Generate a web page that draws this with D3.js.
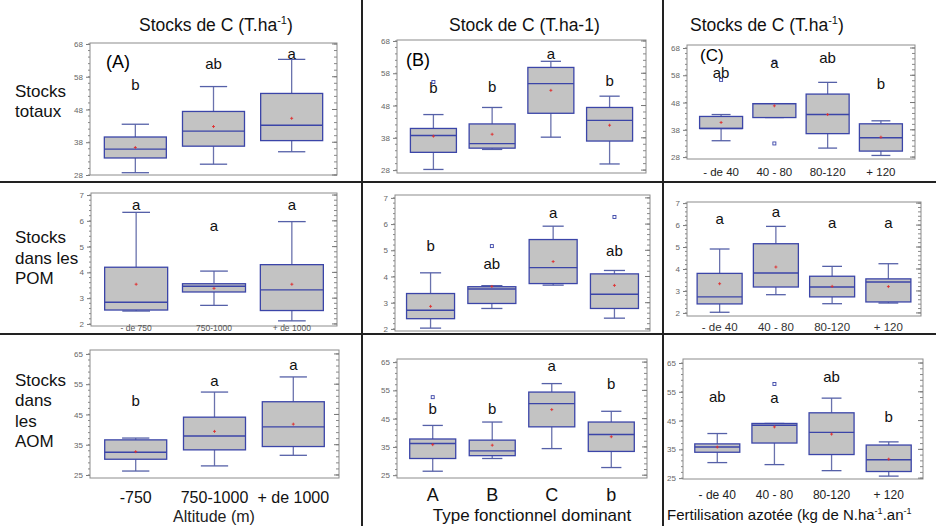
<!DOCTYPE html>
<html lang="fr">
<head>
<meta charset="UTF-8">
<title>Stocks de C</title>
<style>
  body { margin: 0; background: #fff; }
  svg { display: block; font-family: 'Liberation Sans', Arial, sans-serif; }
</style>
</head>
<body>
<svg id="svg" width="936" height="526"></svg>
<script src="https://d3js.org/d3.v7.min.js"></script>
<script>
// categories
const catAlt = ['- de 750', '750-1000', '+ de 1000']
const catAltBig = ['-750', '750-1000', '+ de 1000']
const catType = ['A', 'B', 'C', 'b']
const catFert = ['- de 40', '40 - 80', '80-120', '+ 120']

// box stats: [min, q1, median, q3, max, mean]
const totA = [[28.7, 33.2, 35.9, 39.6, 43.5, 36.4], [31.3, 36.8, 41.4, 47.4, 55.0, 42.8], [35.1, 38.5, 43.2, 52.9, 63.3, 45.3]]
const totB = [[28.2, 33.5, 38.7, 40.9, 45.2, 38.5], [34.4, 34.8, 36.2, 42.3, 47.4, 39.1], [38.2, 45.6, 54.8, 59.8, 61.7, 52.7], [29.9, 37.0, 43.4, 47.4, 50.9, 41.9]]
const totC = [[34.0, 38.5, 38.5, 42.9, 43.6, 40.7], [42.5, 42.5, 47.6, 47.6, 47.6, 46.8], [31.3, 36.6, 43.6, 51.1, 55.4, 43.6], [28.6, 30.2, 35.1, 40.2, 41.3, 35.3]]
const pomA = [[2.50, 2.54, 2.84, 4.20, 6.33, 3.54], [2.72, 3.24, 3.46, 3.56, 4.05, 3.38], [2.12, 2.52, 3.32, 4.30, 5.97, 3.54]]
const pomB = [[2.03, 2.39, 2.71, 3.35, 4.14, 2.86], [2.78, 2.97, 3.52, 3.61, 3.65, 3.62], [3.67, 3.73, 4.34, 5.41, 5.92, 4.57], [2.41, 2.78, 3.32, 4.10, 4.23, 3.66]]
const pomC = [[2.03, 2.41, 2.73, 3.80, 4.91, 3.33], [2.83, 3.18, 3.82, 5.15, 5.94, 4.09], [2.42, 2.73, 3.18, 3.67, 4.12, 3.21], [2.45, 2.50, 3.41, 3.55, 4.24, 3.20]]
const aomA = [[26.3, 30.2, 32.5, 36.6, 37.2, 32.7], [28.0, 33.3, 37.9, 44.1, 52.4, 39.4], [31.5, 34.4, 40.9, 49.2, 57.4, 41.8]]
const aomB = [[26.4, 30.9, 36.2, 37.8, 42.6, 35.8], [30.9, 31.9, 33.6, 37.4, 43.8, 35.6], [34.4, 42.1, 50.3, 54.4, 57.4, 48.2], [27.7, 33.4, 39.4, 43.8, 47.6, 38.6]]
const aomC = [[30.4, 34.0, 35.8, 36.9, 40.5, 35.8], [29.7, 37.2, 43.4, 44.0, 44.0, 42.8], [27.6, 33.2, 40.9, 47.7, 52.8, 40.3], [25.7, 27.3, 31.4, 36.5, 37.6, 31.6]]

// outliers: [category index, value]
const outTotB = [[0, 55.3]]
const outTotC = [[0, 56.3], [1, 33.0], [1, 63.0]]
const outPomB = [[1, 5.16], [3, 6.27]]
const outAomB = [[0, 52.6]]
const outAomC = [[1, 57.7]]

// significance letters and the value where they sit
const letTotA = ['b', 'ab', 'a'], letYTotA = [55.5, 62, 65]
const letTotB = ['b', 'b', 'a', 'b'], letYTotB = [53.3, 53.8, 64, 55.5]
const letTotC = ['ab', 'a', 'ab', 'b'], letYTotC = [58.8, 62.5, 64.3, 54.8]
const letPomA = ['a', 'a', 'a'], letYPomA = [6.6, 5.8, 6.6]
const letPomB = ['b', 'ab', 'a', 'ab'], letYPomB = [5.16, 4.47, 6.43, 4.97]
const letPomC = ['a', 'a', 'a', 'a'], letYPomC = [6.29, 6.59, 6.09, 6.09]
const letAomA = ['b', 'a', 'a'], letYAomA = [49.5, 56.2, 61.2]
const letAomB = ['b', 'b', 'a', 'b'], letYAomB = [48.5, 48.5, 63.6, 57.1]
const letAomC = ['ab', 'a', 'ab', 'b'], letYAomC = [53.3, 52.8, 60.0, 46.3]

// tick labels
const ticksTot = [28, 38, 48, 58, 68]
const ticksPom = [2, 3, 4, 5, 6, 7]
const ticksAom = [25, 35, 45, 55, 65]

const svg = d3.select('#svg')
const blue = '#3b45a8'

function panel(p) {
  const g = svg.append('g')
  const x = d3.scalePoint().domain(p.cats).range([p.x0, p.x1]).padding(p.pad)
  const y = d3.scaleLinear().domain(p.dom).range([p.y1, p.y0])

  // frame
  g.append('rect')
    .attr('x', p.x0).attr('y', p.y0)
    .attr('width', p.x1 - p.x0).attr('height', p.y1 - p.y0)
    .attr('fill', 'none').attr('stroke', '#8c8c8c')

  // left axis
  const ax = g.append('g')
    .attr('transform', `translate(${p.x0},0)`)
    .call(d3.axisLeft(y).tickValues(p.ticks).tickSize(4).tickPadding(3).tickFormat(d3.format('d')))
  ax.select('.domain').remove()
  ax.selectAll('line').attr('stroke', '#777')
  ax.selectAll('text').attr('font-size', 8).attr('fill', '#666').attr('font-family', 'Liberation Sans, Arial')

  // minor ticks on both sides
  const minor = []
  for (let v = p.ticks[0]; v <= p.dom[1]; v += p.minor) minor.push(+v.toFixed(3))
  for (let v = p.ticks[0] - p.minor; v >= p.dom[0]; v -= p.minor) minor.push(+v.toFixed(3))
  g.selectAll('.mn').data(minor).join('line')
    .attr('x1', p.x0 - 2).attr('x2', p.x0)
    .attr('y1', d => y(d)).attr('y2', d => y(d))
    .attr('stroke', '#888')
  g.selectAll('.mr').data(minor).join('line')
    .attr('x1', p.x1).attr('x2', p.x1 - 3)
    .attr('y1', d => y(d)).attr('y2', d => y(d))
    .attr('stroke', '#888')
  g.selectAll('.mj').data(p.ticks).join('line')
    .attr('x1', p.x1).attr('x2', p.x1 - 5)
    .attr('y1', d => y(d)).attr('y2', d => y(d))
    .attr('stroke', '#777')

  // boxes
  const b = g.selectAll('.box').data(p.stats).join('g')
    .attr('transform', (d, i) => `translate(${x(p.cats[i])},0)`)
  const w = p.boxW, cap = w * 0.22
  b.append('line')
    .attr('y1', d => y(d[4])).attr('y2', d => y(d[3]))
    .attr('stroke', '#6a72ad').attr('stroke-width', 1.3)
  b.append('line')
    .attr('y1', d => y(d[1])).attr('y2', d => y(d[0]))
    .attr('stroke', '#6a72ad').attr('stroke-width', 1.3)
  b.append('line')
    .attr('x1', -cap).attr('x2', cap)
    .attr('y1', d => y(d[4])).attr('y2', d => y(d[4]))
    .attr('stroke', '#5560a8').attr('stroke-width', 1.3)
  b.append('line')
    .attr('x1', -cap).attr('x2', cap)
    .attr('y1', d => y(d[0])).attr('y2', d => y(d[0]))
    .attr('stroke', '#5560a8').attr('stroke-width', 1.3)
  b.append('rect')
    .attr('x', -w / 2).attr('width', w)
    .attr('y', d => y(d[3])).attr('height', d => Math.max(1, y(d[1]) - y(d[3])))
    .attr('fill', '#c3c3c3').attr('stroke', blue).attr('stroke-width', 1.3)
  b.append('line')
    .attr('x1', -w / 2).attr('x2', w / 2)
    .attr('y1', d => y(d[2])).attr('y2', d => y(d[2]))
    .attr('stroke', blue).attr('stroke-width', 1.4)
  // mean as small red cross
  b.append('path')
    .attr('d', d => `M-1.5,${y(d[5])}h3M0,${y(d[5]) - 1.5}v3`)
    .attr('stroke', '#e03030').attr('stroke-width', 0.9)

  // outliers
  g.selectAll('.out').data(p.outliers || []).join('rect')
    .attr('x', d => x(p.cats[d[0]]) - 1.5).attr('y', d => y(d[1]) - 1.5)
    .attr('width', 3).attr('height', 3)
    .attr('fill', 'none').attr('stroke', blue).attr('stroke-width', 0.9)

  // letters
  g.selectAll('.let').data(p.letters).join('text')
    .attr('x', (d, i) => x(p.cats[i]))
    .attr('y', (d, i) => y(p.letY[i]) + 5)
    .attr('text-anchor', 'middle')
    .attr('font-size', 15).attr('fill', '#111')
    .text(d => d)

  // category labels
  if (p.catLabels) {
    g.selectAll('.cat').data(p.catLabels).join('text')
      .attr('x', (d, i) => x(p.cats[i]))
      .attr('y', p.catY)
      .attr('text-anchor', 'middle')
      .attr('font-size', p.catSize).attr('fill', p.catColor)
      .text(d => d)
  }
}

panel({ x0: 90, x1: 337, y0: 43, y1: 175, dom: [28, 68.3], ticks: ticksTot, minor: 2, pad: 0.58, boxW: 62,
  cats: catAlt, stats: totA, letters: letTotA, letY: letYTotA })
panel({ x0: 397, x1: 646, y0: 40, y1: 173, dom: [27.1, 68.3], ticks: ticksTot, minor: 2, pad: 0.62, boxW: 46,
  cats: catType, stats: totB, letters: letTotB, letY: letYTotB, outliers: outTotB })
panel({ x0: 687, x1: 915, y0: 45, y1: 159, dom: [27.3, 69.1], ticks: ticksTot, minor: 2, pad: 0.64, boxW: 43,
  cats: catFert, stats: totC, letters: letTotC, letY: letYTotC, outliers: outTotC,
  catLabels: catFert, catY: 176, catSize: 11.5, catColor: '#222' })

panel({ x0: 91, x1: 337, y0: 193, y1: 326, dom: [1.92, 7.08], ticks: ticksPom, minor: 0.2, pad: 0.58, boxW: 63,
  cats: catAlt, stats: pomA, letters: letPomA, letY: letYPomA,
  catLabels: catAlt, catY: 331, catSize: 8.5, catColor: '#555' })
panel({ x0: 395, x1: 650, y0: 195, y1: 331, dom: [1.92, 7.11], ticks: ticksPom, minor: 0.2, pad: 0.58, boxW: 48,
  cats: catType, stats: pomB, letters: letPomB, letY: letYPomB, outliers: outPomB })
panel({ x0: 687, x1: 921, y0: 202, y1: 316, dom: [1.86, 7.05], ticks: ticksPom, minor: 0.2, pad: 0.58, boxW: 45,
  cats: catFert, stats: pomC, letters: letPomC, letY: letYPomC,
  catLabels: catFert, catY: 331, catSize: 11.5, catColor: '#333' })

panel({ x0: 90, x1: 339, y0: 350, y1: 478, dom: [24.0, 66.3], ticks: ticksAom, minor: 2, pad: 0.58, boxW: 62,
  cats: catAlt, stats: aomA, letters: letAomA, letY: letYAomA,
  catLabels: catAltBig, catY: 503, catSize: 16, catColor: '#111' })
panel({ x0: 397, x1: 647, y0: 359, y1: 478, dom: [24.0, 66.1], ticks: ticksAom, minor: 2, pad: 0.6, boxW: 46,
  cats: catType, stats: aomB, letters: letAomB, letY: letYAomB, outliers: outAomB,
  catLabels: catType, catY: 501, catSize: 18, catColor: '#111' })
panel({ x0: 683, x1: 923, y0: 359, y1: 479, dom: [24.7, 66.4], ticks: ticksAom, minor: 2, pad: 0.6, boxW: 45,
  cats: catFert, stats: aomC, letters: letAomC, letY: letYAomC, outliers: outAomC,
  catLabels: catFert, catY: 499, catSize: 12, catColor: '#222' })

// separators
const sep = svg.append('g').attr('stroke', '#222').attr('stroke-width', 2)
sep.append('line').attr('x1', 0).attr('x2', 936).attr('y1', 182).attr('y2', 182)
sep.append('line').attr('x1', 0).attr('x2', 936).attr('y1', 334).attr('y2', 334)
sep.append('line').attr('x1', 362).attr('x2', 362).attr('y1', 0).attr('y2', 526)
sep.append('line').attr('x1', 663).attr('x2', 663).attr('y1', 0).attr('y2', 526)

// column titles
function title(x, txt, sup) {
  const t = svg.append('text').attr('x', x).attr('y', 31).attr('font-size', 17.5).attr('fill', '#111')
  t.append('tspan').text(txt)
  if (sup) {
    t.append('tspan').attr('font-size', 11).attr('dy', -7).text('-1')
    t.append('tspan').attr('dy', 7).text(')')
  }
}
title(139, 'Stocks de C (T.ha', true)
svg.append('text').attr('x', 449).attr('y', 31).attr('font-size', 17.5).attr('fill', '#111').text('Stock de C (T.ha-1)')
title(690, 'Stocks de C (T.ha', true)

// panel letters
svg.append('text').attr('x', 106).attr('y', 68).attr('font-size', 18).text('(A)')
svg.append('text').attr('x', 406).attr('y', 66).attr('font-size', 18).text('(B)')
svg.append('text').attr('x', 700).attr('y', 61).attr('font-size', 17).text('(C)')

// row labels
const rowLabels = [[['Stocks', 97], ['totaux', 117]],
  [['Stocks', 243], ['dans les', 264], ['POM', 284]],
  [['Stocks', 386], ['dans', 406], ['les', 427], ['AOM', 447]]]
rowLabels.forEach(r => r.forEach(([s, yy]) => {
  svg.append('text').attr('x', 15).attr('y', yy).attr('font-size', 17).attr('fill', '#111').text(s)
}))

// axis titles
svg.append('text').attr('x', 214).attr('y', 522).attr('text-anchor', 'middle')
  .attr('font-size', 16).attr('fill', '#222').text('Altitude (m)')
svg.append('text').attr('x', 532).attr('y', 521).attr('text-anchor', 'middle')
  .attr('font-size', 17).attr('fill', '#111').text('Type fonctionnel dominant')
const ft = svg.append('text').attr('x', 667).attr('y', 520).attr('font-size', 15).attr('fill', '#111')
ft.append('tspan').text('Fertilisation azotée (kg de N.ha')
ft.append('tspan').attr('font-size', 9).attr('dy', -6).text('-1')
ft.append('tspan').attr('dy', 6).text('.an')
ft.append('tspan').attr('font-size', 9).attr('dy', -6).text('-1')
</script>
</body>
</html>
